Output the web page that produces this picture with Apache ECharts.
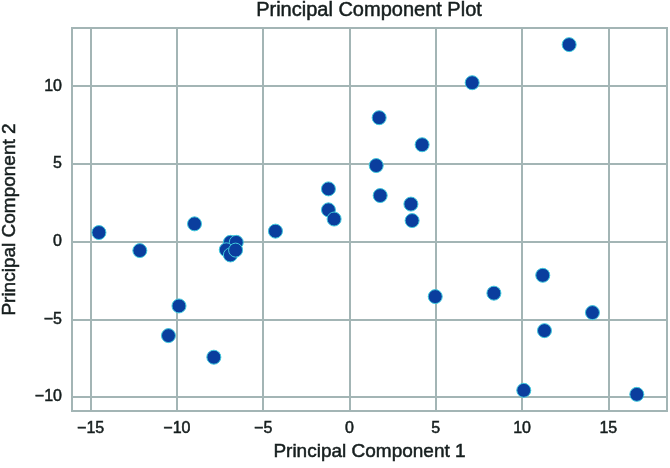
<!DOCTYPE html>
<html>
<head>
<meta charset="utf-8">
<script src="https://cdn.jsdelivr.net/npm/echarts@6/dist/echarts.min.js"></script>
<style>html,body{margin:0;padding:0;background:#fff}#c{width:670px;height:468px}</style>
</head>
<body>
<div id="c"></div>
<script>
const titleText = 'Principal Component Plot';
const xName = 'Principal Component 1';
const yName = 'Principal Component 2';
const pc1 = [-14.52, -12.15, -8.98, -6.9, -6.56, -7.14, -6.9, -6.6, -4.29, -1.22, -1.22, -0.89, 1.55, 1.72, 1.78, 4.21, 3.56, 3.63, 7.11, 12.73, 4.97, 8.37, 11.2, 11.3, 14.08, 10.1, 16.65, -9.88, -10.49, -7.86];
const pc2 = [0.58, -0.58, 1.14, -0.05, -0.05, -0.53, -0.86, -0.55, 0.67, 3.39, 2.04, 1.45, 4.89, 7.97, 2.96, 6.23, 2.41, 1.35, 10.22, 12.67, -3.54, -3.32, -2.17, -5.73, -4.57, -9.57, -9.83, -4.14, -6.05, -7.44];
const xRange = [-16.08, 18.4];
const yRange = [-10.9, 13.74];

const points = pc1.map((v, i) => [v, pc2[i]]);
const gridColor = '#a3b5b5';
const textColor = '#151d1d';
const fmt = v => (Math.abs(v % 5) < 1e-6) ? String(Math.round(v)).replace('-', '\u2212') : '';
const font = '"Liberation Sans", Arial, Helvetica, sans-serif';
const thick = {textBorderColor: textColor, textBorderWidth: 0.5};

const chart = echarts.init(document.getElementById('c'), null, {renderer: 'canvas'});
chart.setOption({
  backgroundColor: '#fff',
  animation: false,
  title: {
    text: titleText, left: 369, top: 0, textAlign: 'center', padding: 0,
    textStyle: Object.assign({fontFamily: font, fontSize: 20, fontWeight: 'normal', color: textColor}, thick)
  },
  grid: {left: 72, right: 3, top: 28, bottom: 57, show: true, borderColor: gridColor, borderWidth: 2, containLabel: false, outerBoundsMode: 'none'},
  xAxis: {
    type: 'value', min: xRange[0], max: xRange[1],
    name: xName, nameLocation: 'middle', nameGap: 31,
    nameTextStyle: Object.assign({fontFamily: font, fontSize: 19, color: textColor}, thick),
    axisLine: {show: false}, axisTick: {show: false},
    axisLabel: Object.assign({formatter: fmt, fontFamily: font, fontSize: 16, color: textColor, margin: 10}, thick),
    splitLine: {show: true, lineStyle: {color: gridColor, width: 2}}
  },
  yAxis: {
    type: 'value', min: yRange[0], max: yRange[1],
    name: yName, nameLocation: 'middle', nameGap: 53, nameRotate: 90,
    nameTextStyle: Object.assign({fontFamily: font, fontSize: 19, color: textColor}, thick),
    axisLine: {show: false}, axisTick: {show: false},
    axisLabel: Object.assign({formatter: fmt, fontFamily: font, fontSize: 16, color: textColor, margin: 10}, thick),
    splitLine: {show: true, lineStyle: {color: gridColor, width: 2}}
  },
  series: [{
    type: 'scatter', data: points, symbolSize: 14,
    itemStyle: {color: '#0a3e9e', borderColor: '#3fc9dc', borderWidth: 1, opacity: 1}
  }]
});
</script>
</body>
</html>
